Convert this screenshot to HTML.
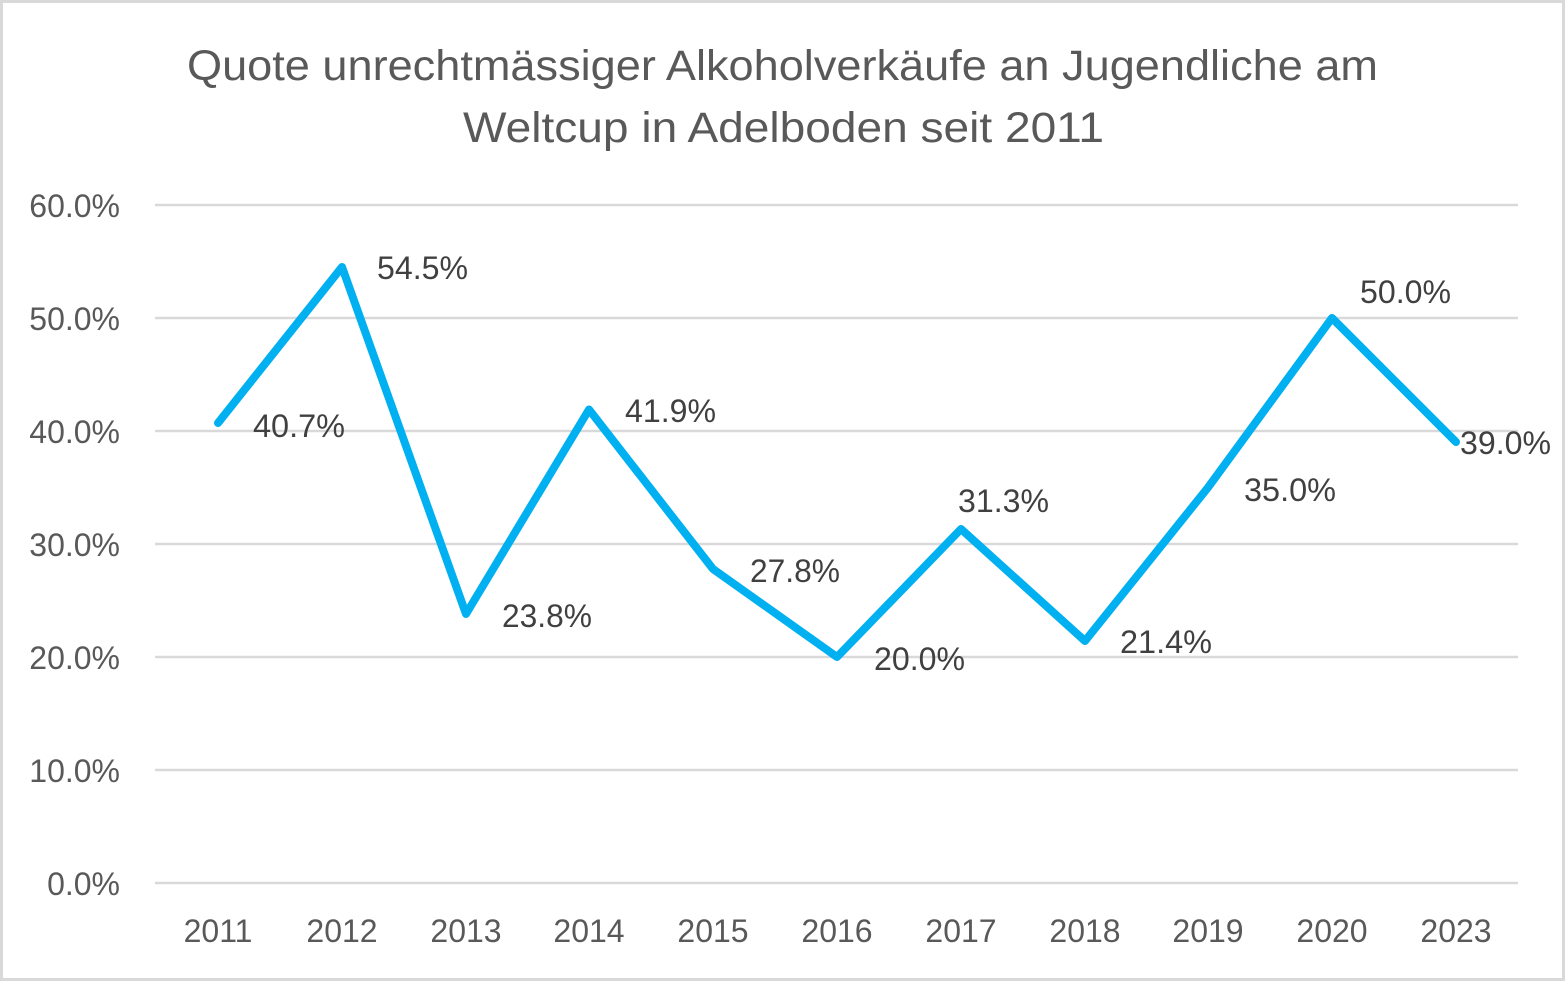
<!DOCTYPE html>
<html><head><meta charset="utf-8"><style>
html,body{margin:0;padding:0;background:#fff;}
svg{display:block;}
text{font-family:"Liberation Sans",Arial,sans-serif;}
</style></head><body>
<svg width="1566" height="982" viewBox="0 0 1566 982" xmlns="http://www.w3.org/2000/svg">
<rect x="0" y="0" width="1566" height="982" fill="#fff"/>
<rect x="1.5" y="1.5" width="1562" height="978" fill="none" stroke="#d9d9d9" stroke-width="3"/>
<g fill="#595959">
<text x="187" y="80" font-size="43" textLength="1191" lengthAdjust="spacingAndGlyphs">Quote unrechtmässiger Alkoholverkäufe an Jugendliche am</text>
<text x="463" y="142" font-size="43" textLength="641" lengthAdjust="spacingAndGlyphs">Weltcup in Adelboden seit 2011</text>
</g>
<g stroke="#d9d9d9" stroke-width="2.5">
<line x1="155" y1="205" x2="1518" y2="205"/>
<line x1="155" y1="318" x2="1518" y2="318"/>
<line x1="155" y1="431" x2="1518" y2="431"/>
<line x1="155" y1="544" x2="1518" y2="544"/>
<line x1="155" y1="657" x2="1518" y2="657"/>
<line x1="155" y1="770" x2="1518" y2="770"/>
<line x1="155" y1="883" x2="1518" y2="883"/>
</g>
<g fill="#595959" font-size="32" text-anchor="end">
<text x="120" y="217">60.0%</text>
<text x="120" y="330">50.0%</text>
<text x="120" y="443">40.0%</text>
<text x="120" y="556">30.0%</text>
<text x="120" y="669">20.0%</text>
<text x="120" y="782">10.0%</text>
<text x="120" y="895">0.0%</text>
</g>
<g fill="#595959" font-size="32" text-anchor="middle">
<text x="218" y="942">2011</text>
<text x="342" y="942">2012</text>
<text x="466" y="942">2013</text>
<text x="589" y="942">2014</text>
<text x="713" y="942">2015</text>
<text x="837" y="942">2016</text>
<text x="961" y="942">2017</text>
<text x="1085" y="942">2018</text>
<text x="1208" y="942">2019</text>
<text x="1332" y="942">2020</text>
<text x="1456" y="942">2023</text>
</g>
<polyline fill="none" stroke="#00b0f0" stroke-width="8" stroke-linejoin="round" stroke-linecap="round"
points="218,423 342,267 466,614 589,409.5 713,569 837,657 961,529 1085,641 1208,487.5 1332,318 1456,442"/>
<g fill="#404040" font-size="32">
<text x="253" y="437" textLength="92" lengthAdjust="spacingAndGlyphs">40.7%</text>
<text x="377" y="279" textLength="91" lengthAdjust="spacingAndGlyphs">54.5%</text>
<text x="502" y="627" textLength="90" lengthAdjust="spacingAndGlyphs">23.8%</text>
<text x="625" y="422" textLength="91" lengthAdjust="spacingAndGlyphs">41.9%</text>
<text x="750" y="582" textLength="90" lengthAdjust="spacingAndGlyphs">27.8%</text>
<text x="874" y="670" textLength="91" lengthAdjust="spacingAndGlyphs">20.0%</text>
<text x="958" y="512" textLength="91" lengthAdjust="spacingAndGlyphs">31.3%</text>
<text x="1120" y="653" textLength="92" lengthAdjust="spacingAndGlyphs">21.4%</text>
<text x="1244" y="501" textLength="92" lengthAdjust="spacingAndGlyphs">35.0%</text>
<text x="1360" y="303" textLength="91" lengthAdjust="spacingAndGlyphs">50.0%</text>
<text x="1460" y="454" textLength="91" lengthAdjust="spacingAndGlyphs">39.0%</text>
</g>
</svg>
</body></html>
